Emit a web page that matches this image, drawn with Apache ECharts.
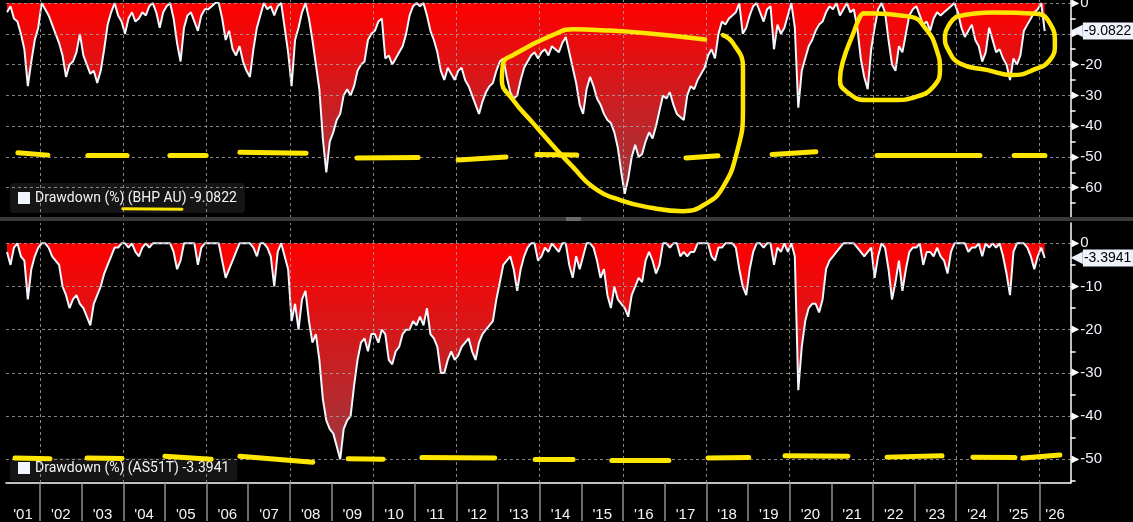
<!DOCTYPE html>
<html>
<head>
<meta charset="utf-8">
<script src="https://cdn.jsdelivr.net/npm/echarts@6/dist/echarts.min.js"></script>
<style>
html,body{margin:0;padding:0;background:#000;}
#chart{width:1133px;height:522px;}
</style>
</head>
<body>
<div id="chart"></div>
<script>
// ---------------- DATA ----------------
// Monthly observations, first one = March 2001, last one = February 2026
const firstYear = 2001;
const firstMonth = 3;

// Drawdown (%) BHP AU, monthly readings
const bhpDrawdown = [
  -3, -1, -5, -6, -10, -15, -27, -19, -12, -8,
  0, -2, -4, -7, -10, -13, -17, -24, -20, -19, -16, -10,
  -17, -20, -23, -22, -26, -22, -15, -7, -3, 0, -4, -6,
  -10, -5, -3, -6, -5, -3, -4, -1, 0, -3, -8, -3,
  -1, 0, -5, -13, -19, -8, -4, -3, -6, -9, -4, -2,
  -2, -1, 0, 0, -5, -12, -9, -15, -17, -14, -19, -22,
  -24, -15, -8, -4, 0, -2, -1, -4, -1, 0, -8, -16,
  -27, -12, -8, -3, 0, -5, -12, -20, -28, -44, -55, -45,
  -42, -38, -36, -30, -28, -30, -27, -22, -20, -19, -12, -10,
  -9, -6, -5, -18, -17, -20, -18, -16, -14, -10, -4, -1,
  0, -1, 0, -4, -9, -12, -16, -22, -25, -21, -23, -25,
  -22, -21, -25, -27, -30, -33, -36, -32, -29, -27, -26, -22,
  -19, -18, -24, -29, -31, -30, -25, -21, -19, -17, -16, -18,
  -16, -15, -17, -14, -15, -16, -13, -11, -16, -21, -26, -33,
  -36, -28, -24, -27, -31, -33, -36, -38, -39, -42, -47, -55,
  -62, -57, -50, -46, -50, -49, -45, -42, -44, -40, -35, -30,
  -31, -29, -33, -36, -37, -38, -30, -27, -28, -25, -23, -21,
  -17, -15, -18, -10, -6, -7, -5, -4, -3, 0, -10, -8,
  -4, -1, 0, -3, -6, -2, -1, -15, -7, -10, -8, -4,
  0, -8, -34, -22, -18, -14, -12, -9, -7, -6, -3, -1,
  -2, 0, -4, -2, 0, -3, -2, -8, -18, -24, -28, -15,
  -8, -2, 0, -3, -12, -20, -22, -14, -16, -10, -4, -2,
  -1, -4, -7, -6, -9, -5, -3, -4, -3, -2, -1, 0,
  -3, -8, -11, -9, -7, -12, -14, -19, -16, -8, -12, -16,
  -15, -18, -20, -25, -18, -20, -17, -9, -7, -5, -3, -2,
  0, -9.0822
];

// Drawdown (%) AS51T, monthly readings
const as51tDrawdown = [
  -2, -5, -1, 0, -3, -4, -13, -6, -3, -1,
  0, 0, -1, -3, -4, -5, -10, -12, -15, -13, -12, -14,
  -15, -17, -19, -14, -12, -10, -7, -5, -3, -1, -1, 0,
  0, -1, 0, -2, -3, -1, 0, -1, 0, 0, 0, 0,
  0, 0, -2, -6, -4, 0, 0, 0, 0, -5, -1, 0,
  0, 0, 0, 0, -4, -8, -6, -4, -2, 0, 0, 0,
  0, -1, -3, 0, 0, -1, -3, -10, -2, 0, -3, -6,
  -18, -14, -20, -13, -11, -18, -23, -21, -27, -36, -41, -43,
  -44, -47, -50, -43, -41, -40, -33, -27, -23, -22, -25, -21,
  -21, -23, -20, -21, -27, -28, -25, -24, -21, -20, -20, -18,
  -19, -17, -19, -15, -21, -22, -24, -30, -30, -27, -25, -27,
  -26, -24, -23, -22, -25, -27, -23, -21, -20, -19, -18, -13,
  -9, -5, -4, -3, -6, -11, -6, -3, -1, 0, 0, -4,
  -3, -1, -2, 0, -1, -2, 0, 0, -5, -8, -3, -6,
  -3, 0, 0, -1, -4, -8, -6, -12, -15, -10, -13, -14,
  -15, -17, -12, -10, -8, -9, -4, -2, -4, -7, -5, 0,
  0, -1, 0, 0, -3, -2, -3, -2, -2, 0, 0, 0,
  0, -3, -4, -1, -1, 0, 0, 0, -1, -6, -10, -12,
  -6, -2, 0, 0, -1, 0, 0, -5, -1, -2, 0, -2,
  0, -3, -34, -24, -18, -15, -14, -14, -16, -13, -6, -4,
  -3, -2, -1, 0, 0, 0, 0, -1, -2, -3, -2, -1,
  -8, -3, 0, -1, -6, -13, -9, -4, -11, -6, -2, -1,
  -1, 0, -5, -2, -2, -3, -1, -3, -4, -7, -2, 0,
  0, 0, 0, -2, -1, -1, 0, -3, 0, -1, 0, -1,
  0, -3, -7, -12, -2, 0, 0, 0, -1, -3, -6, -3,
  -1, -3.3941
];

const bhpName = 'Drawdown (%) (BHP AU)';
const as51tName = 'Drawdown (%) (AS51T)';
const bhpLast = '-9.0822';
const as51tLast = '-3.3941';

// tick labels
const yearLabels = ["'01","'02","'03","'04","'05","'06","'07","'08","'09","'10","'11","'12","'13",
                    "'14","'15","'16","'17","'18","'19","'20","'21","'22","'23","'24","'25","'26"];
const yearTicks = [2002,2003,2004,2005,2006,2007,2008,2009,2010,2011,2012,2013,2014,
                   2015,2016,2017,2018,2019,2020,2021,2022,2023,2024,2025,2026];
const gridYears = [2002,2004,2006,2008,2010,2012,2014,2016,2018,2020,2022,2024,2026];
const topValueLabels = [0,-10,-20,-30,-40,-50,-60];
const topMinorTicks = [0,-5,-10,-15,-20,-25,-30,-35,-40,-45,-50,-55,-60,-65];
const bottomValueLabels = [0,-10,-20,-30,-40,-50];
const bottomMinorTicks = [0,-5,-10,-15,-20,-25,-30,-35,-40,-45,-50,-55];

// hand-drawn yellow annotations (year, value) pairs
const topDashes = [
  [2001.47,-48.6,2002.19,-49.4],[2003.15,-49.5,2004.09,-49.6],[2005.12,-49.5,2005.99,-49.5],
  [2006.80,-48.5,2008.39,-48.8],[2009.61,-50.3,2011.08,-50.2],[2012.04,-51.0,2013.19,-50.0],
  [2013.93,-49.2,2014.89,-49.4],[2017.51,-50.3,2018.28,-49.6],[2019.58,-49.2,2020.63,-48.3],
  [2022.10,-49.5,2024.57,-49.5],[2025.39,-49.5,2026.13,-49.5]
];
const bottomDashes = [
  [2001.40,-49.7,2002.24,-49.9],[2003.13,-49.7,2003.97,-49.8],[2005.00,-49.3,2006.11,-50.0],
  [2006.80,-49.3,2008.55,-50.7],[2009.40,-49.9,2010.24,-50.0],[2011.17,-49.6,2012.92,-49.7],
  [2013.89,-50.0,2014.80,-50.1],[2015.73,-50.3,2017.10,-50.3],[2018.04,-49.7,2019.02,-49.6],
  [2019.89,-49.2,2021.40,-49.3],[2022.34,-49.5,2023.66,-49.2],[2024.40,-49.5,2025.41,-49.6],
  [2025.60,-49.7,2026.49,-49.0]
];
const legendUnderline = [2003.99,-66.8,2005.41,-67.0];
const loop2013 = [
  [2017.97,-11.8],[2016.57,-9.8],[2015.5,-8.8],[2014.80,-8.5],[2014.41,-9.8],[2013.36,-16.9],
  [2013.12,-19.6],[2013.09,-25.0],[2013.36,-31.5],[2013.84,-39.0],[2014.41,-47.7],[2014.80,-53.3],
  [2015.28,-59.8],[2015.93,-64.0],[2016.72,-66.6],[2017.44,-67.6],[2018.01,-65.0],[2018.40,-59.8],
  [2018.73,-48.7],[2018.88,-34.7],[2018.88,-20.8],[2018.64,-13.0],[2018.40,-10.4]
];
const loop2021 = [
  [2021.77,-3.3],[2022.89,-4.4],[2023.29,-8.7],[2023.53,-15.2],[2023.61,-21.7],[2023.45,-27.2],
  [2023.05,-30.4],[2022.49,-31.5],[2021.85,-31.5],[2021.37,-28.8],[2021.21,-25.0],[2021.29,-18.5],
  [2021.53,-9.8],[2021.69,-4.4],[2021.77,-3.3]
];
const loop2024 = [
  [2024.01,-4.4],[2024.89,-3.1],[2025.93,-3.5],[2026.25,-6.6],[2026.37,-13.1],[2026.25,-18.5],
  [2025.85,-21.7],[2025.37,-23.4],[2024.73,-21.7],[2024.09,-19.6],[2023.81,-15.2],[2023.73,-10.9],
  [2023.85,-6.6],[2024.01,-4.4]
];

// ---------------- CHART ----------------
const xMin = 2001.184, xMax = 2026.747;
const FONT = '"Liberation Sans", Arial, sans-serif';
const LEGEND_FONT = 'Roboto, "Liberation Sans", sans-serif';
const YELLOW = '#ffe600';
const WHITE = '#f2f6ff';

function monthX(i) { return firstYear + (firstMonth - 1 + i + 0.5) / 12; }
const bhpSeries = bhpDrawdown.map((v, i) => [monthX(i), v]);
const as51tSeries = as51tDrawdown.map((v, i) => [monthX(i), v]);

const labelCenters = yearLabels.map((s, i) => {
  const y = firstYear + i;
  return (Math.max(y, xMin) + Math.min(y + 1, xMax)) / 2;
});

function areaGradient() {
  return new echarts.graphic.LinearGradient(0, 0, 0, 1, [
    { offset: 0, color: '#ff0000' },
    { offset: 1, color: '#9a3a40' }
  ]);
}

const gridLineStyle = { color: 'rgba(165,165,165,0.8)', width: 1, type: [3, 3] };
function gridMarks(values) {
  return values.map(v => ({ yAxis: v })).concat(gridYears.map(y => ({ xAxis: y })));
}
function badge(val) {
  return {
    yAxis: parseFloat(val),
    lineStyle: { color: 'rgba(0,0,0,0)', width: 1, type: 'solid' },
    label: {
      show: true, position: 'end', distance: 0,
      formatter: '{tip|◀}{box|' + val + '}',
      rich: {
        tip: { color: '#eef3fb', fontSize: 16, fontFamily: 'DejaVu Sans' },
        box: { backgroundColor: '#eef3fb', color: '#000', fontSize: 14, fontFamily: FONT, padding: [2, 4, 1, 1] }
      }
    }
  };
}

function yAxisCfg(gridIndex, min, max, labels, minors) {
  return {
    type: 'value', gridIndex, position: 'right', min, max,
    axisLine: { show: true, onZero: false, lineStyle: { color: '#ffffff', width: 1.5 } },
    axisTick: { show: true, customValues: minors, length: 5, lineStyle: { color: '#ffffff', width: 1.5 } },
    axisLabel: {
      customValues: labels, margin: 1,
      formatter: v => '{t|▶}{v|' + v + '}',
      rich: {
        t: { color: '#ffffff', fontSize: 10, fontFamily: 'DejaVu Sans' },
        v: { color: '#eef2fa', fontSize: 15, fontFamily: FONT, padding: [0, 0, 0, 1] }
      }
    },
    splitLine: { show: false }
  };
}

function yellowLines(xi, yi, arr, width) {
  return {
    type: 'lines', coordinateSystem: 'cartesian2d', xAxisIndex: xi, yAxisIndex: yi,
    silent: true, z: 10,
    lineStyle: { color: YELLOW, width: width, opacity: 1, cap: 'round', curveness: 0 },
    data: arr.map(d => ({ coords: [[d[0], d[1]], [d[2], d[3]]] }))
  };
}
function yellowLoop(arr) {
  return {
    type: 'line', xAxisIndex: 0, yAxisIndex: 0, silent: true, z: 10,
    smooth: 0.5, showSymbol: false, symbol: 'none',
    lineStyle: { color: YELLOW, width: 4.5, cap: 'round', join: 'round' },
    data: arr
  };
}

const chart = echarts.init(document.getElementById('chart'), null, { renderer: 'canvas' });
chart.setOption({
  animation: false,
  backgroundColor: '#000000',
  grid: [
    { left: 6, right: 62.4, top: 0, height: 218, containLabel: false, outerBoundsMode: 'none' },
    { left: 6, right: 62.4, top: 223, height: 260, containLabel: false, outerBoundsMode: 'none' }
  ],
  xAxis: [
    { type: 'value', gridIndex: 0, min: xMin, max: xMax, show: false,
      axisLine: { onZero: false }, splitLine: { show: false } },
    {
      type: 'value', gridIndex: 1, min: xMin, max: xMax, position: 'bottom',
      axisLine: { show: true, onZero: false, lineStyle: { color: '#ffffff', width: 1.5 } },
      axisTick: { show: true, customValues: yearTicks, length: 38, lineStyle: { color: '#8e8e8e', width: 1.5 } },
      axisLabel: {
        customValues: labelCenters, margin: 24, color: '#f2f4f8', fontSize: 15, fontFamily: FONT,
        formatter: v => yearLabels[Math.floor(v) - firstYear]
      },
      splitLine: { show: false }
    }
  ],
  yAxis: [
    yAxisCfg(0, -69.83, 1.0, topValueLabels, topMinorTicks),
    yAxisCfg(1, -55.49, 4.70, bottomValueLabels, bottomMinorTicks)
  ],
  legend: [
    {
      data: [bhpName], left: 10, top: 183, selectedMode: false,
      backgroundColor: '#151515', borderRadius: 4, padding: [8, 8, 8, 8],
      icon: 'rect', itemWidth: 12, itemHeight: 12,
      formatter: n => n + ' ' + bhpLast,
      textStyle: { color: '#f4f4f4', fontSize: 14, fontFamily: LEGEND_FONT }
    },
    {
      data: [as51tName], left: 10, top: 458, selectedMode: false,
      backgroundColor: '#151515', borderRadius: 4, padding: [3, 8, 6, 8],
      icon: 'rect', itemWidth: 12, itemHeight: 12,
      formatter: n => n + ' ' + as51tLast,
      textStyle: { color: '#f4f4f4', fontSize: 14, fontFamily: LEGEND_FONT }
    }
  ],
  graphic: [
    { type: 'rect', z: 20, shape: { x: 0, y: 217, width: 1133, height: 4 }, style: { fill: '#3a3a3a' } },
    { type: 'rect', z: 21, shape: { x: 566, y: 217.5, width: 15, height: 1 }, style: { fill: '#9a9a9a' } },
    { type: 'rect', z: 21, shape: { x: 566, y: 219.5, width: 15, height: 1 }, style: { fill: '#9a9a9a' } }
  ],
  series: [
    {
      name: bhpName, type: 'line', xAxisIndex: 0, yAxisIndex: 0, data: bhpSeries,
      showSymbol: false, symbol: 'none', z: 2, clip: false,
      lineStyle: { color: WHITE, width: 2 }, itemStyle: { color: WHITE },
      areaStyle: { color: areaGradient(), opacity: 1 },
      markLine: {
        silent: true, symbol: 'none', animation: false,
        lineStyle: gridLineStyle, label: { show: false },
        data: gridMarks(topValueLabels).concat([badge(bhpLast)])
      }
    },
    {
      name: as51tName, type: 'line', xAxisIndex: 1, yAxisIndex: 1, data: as51tSeries,
      showSymbol: false, symbol: 'none', z: 2, clip: false,
      lineStyle: { color: WHITE, width: 2 }, itemStyle: { color: WHITE },
      areaStyle: { color: areaGradient(), opacity: 1 },
      markLine: {
        silent: true, symbol: 'none', animation: false,
        lineStyle: gridLineStyle, label: { show: false },
        data: gridMarks(bottomValueLabels).concat([badge(as51tLast)])
      }
    },
    yellowLines(0, 0, topDashes, 5),
    yellowLines(1, 1, bottomDashes, 5),
    yellowLines(0, 0, [legendUnderline], 3),
    yellowLoop(loop2013),
    yellowLoop(loop2021),
    yellowLoop(loop2024)
  ]
});
</script>
</body>
</html>
